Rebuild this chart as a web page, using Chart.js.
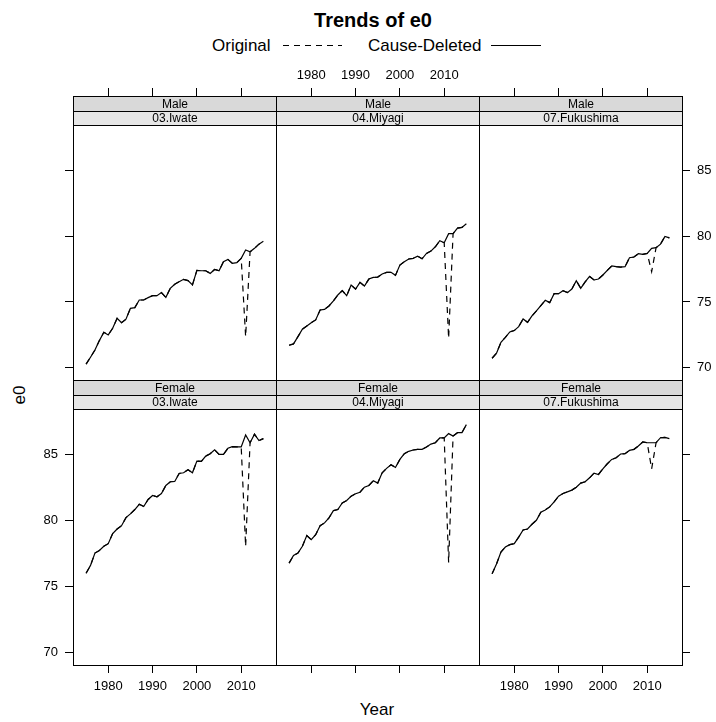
<!DOCTYPE html>
<html>
<head>
<meta charset="utf-8">
<script src="https://cdn.jsdelivr.net/npm/chart.js@4.4.1/dist/chart.umd.min.js"></script>
<style>
  html, body { margin: 0; padding: 0; background: #fff; }
  #wrap { position: relative; width: 716px; height: 722px; overflow: hidden;
          font-family: 'Liberation Sans', Arial, Helvetica, sans-serif; color: #000; }
  #wrap canvas { position: absolute; left: 0; top: 0; }
  .txt { position: absolute; white-space: nowrap; line-height: 1; }
  .mid { transform: translate(-50%, -50%); }
  .key { font-size: 17px; transform: translateY(-50%); }
</style>
</head>
<body>
<div id="wrap">
  <div class="txt mid" style="left:373px;top:20px;font-size:20px;font-weight:bold">Trends of e0</div>
  <div class="txt key" style="left:212px;top:45px">Original</div>
  <svg style="position:absolute;left:0;top:0" width="716" height="60">
    <line x1="283" y1="45.5" x2="342" y2="45.5" stroke="#000" stroke-width="1.2" stroke-dasharray="6 5"/>
    <line x1="491" y1="45.5" x2="541" y2="45.5" stroke="#000" stroke-width="1.2"/>
  </svg>
  <div class="txt key" style="left:368px;top:45px">Cause-Deleted</div>
  <div class="txt mid" style="left:19px;top:395px;font-size:17px;transform:translate(-50%,-50%) rotate(-90deg)">e0</div>
  <div class="txt mid" style="left:377px;top:709px;font-size:17px">Year</div>
</div>
<script>
const FONT = "'Liberation Sans', Arial, Helvetica, sans-serif";

// data
const years = [1975, 1976, 1977, 1978, 1979, 1980, 1981, 1982, 1983, 1984,
  1985, 1986, 1987, 1988, 1989, 1990, 1991, 1992, 1993, 1994,
  1995, 1996, 1997, 1998, 1999, 2000, 2001, 2002, 2003, 2004,
  2005, 2006, 2007, 2008, 2009, 2010, 2011, 2012, 2013, 2014, 2015];
const xTicks = [1980, 1990, 2000, 2010];
const yTicks = [70, 75, 80, 85];

const maleIwate = [70.28, 70.81, 71.36, 72.07, 72.70, 72.50, 73.01, 73.76, 73.43, 73.69,
  74.52, 74.57, 75.15, 75.15, 75.33, 75.48, 75.48, 75.71, 75.35, 76.04,
  76.34, 76.54, 76.72, 76.62, 76.29, 77.40, 77.37, 77.37, 77.17, 77.47,
  77.37, 78.06, 78.23, 77.93, 77.98, 78.31, 78.94, 78.81, 79.07, 79.39, 79.60];
const maleIwateOrig = [70.28, 70.81, 71.36, 72.07, 72.70, 72.50, 73.01, 73.76, 73.43, 73.69,
  74.52, 74.57, 75.15, 75.15, 75.33, 75.48, 75.48, 75.71, 75.35, 76.04,
  76.34, 76.54, 76.72, 76.62, 76.29, 77.40, 77.37, 77.37, 77.17, 77.47,
  77.37, 78.06, 78.23, 77.93, 77.98, 78.31, 72.37, 78.81, 79.07, 79.39, 79.60];

const maleMiyagi = [71.72, 71.82, 72.37, 72.93, 73.18, 73.43, 73.64, 74.39, 74.44, 74.70,
  75.08, 75.53, 75.86, 75.48, 76.29, 75.98, 76.49, 76.21, 76.74, 76.87,
  76.89, 77.12, 77.25, 77.25, 77.02, 77.80, 78.06, 78.26, 78.31, 78.48,
  78.28, 78.69, 78.86, 79.19, 79.65, 79.49, 80.18, 80.18, 80.61, 80.66, 80.93];
const maleMiyagiOrig = [71.72, 71.82, 72.37, 72.93, 73.18, 73.43, 73.64, 74.39, 74.44, 74.70,
  75.08, 75.53, 75.86, 75.48, 76.29, 75.98, 76.49, 76.21, 76.74, 76.87,
  76.89, 77.12, 77.25, 77.25, 77.02, 77.80, 78.06, 78.26, 78.31, 78.48,
  78.28, 78.69, 78.86, 79.19, 79.65, 79.49, 72.25, 80.18, 80.61, 80.66, 80.93];

const maleFukushima = [70.73, 71.11, 71.94, 72.32, 72.73, 72.83, 73.13, 73.71, 73.46, 73.94,
  74.32, 74.72, 75.13, 74.95, 75.63, 75.63, 75.86, 75.71, 75.98, 76.62,
  76.04, 76.52, 76.94, 76.67, 76.74, 77.05, 77.40, 77.73, 77.68, 77.65,
  77.68, 78.36, 78.41, 78.66, 78.61, 78.69, 79.07, 79.12, 79.39, 79.97, 79.87];
const maleFukushimaOrig = [70.73, 71.11, 71.94, 72.32, 72.73, 72.83, 73.13, 73.71, 73.46, 73.94,
  74.32, 74.72, 75.13, 74.95, 75.63, 75.63, 75.86, 75.71, 75.98, 76.62,
  76.04, 76.52, 76.94, 76.67, 76.74, 77.05, 77.40, 77.73, 77.68, 77.65,
  77.68, 78.36, 78.41, 78.66, 78.61, 78.69, 77.30, 79.12, 79.39, 79.97, 79.87];

const femaleIwate = [76.02, 76.61, 77.54, 77.74, 78.05, 78.25, 79.01, 79.36, 79.61, 80.22,
  80.50, 80.83, 81.23, 81.06, 81.59, 81.89, 81.79, 82.04, 82.65, 82.93,
  82.95, 83.56, 83.61, 83.84, 83.61, 84.49, 84.47, 84.87, 85.05, 85.35,
  85.00, 85.00, 85.46, 85.58, 85.56, 85.56, 86.47, 85.88, 86.52, 86.04, 86.19];
const femaleIwateOrig = [76.02, 76.61, 77.54, 77.74, 78.05, 78.25, 79.01, 79.36, 79.61, 80.22,
  80.50, 80.83, 81.23, 81.06, 81.59, 81.89, 81.79, 82.04, 82.65, 82.93,
  82.95, 83.56, 83.61, 83.84, 83.61, 84.49, 84.47, 84.87, 85.05, 85.35,
  85.00, 85.00, 85.46, 85.58, 85.56, 85.56, 78.05, 85.88, 86.52, 86.04, 86.19];

const femaleMiyagi = [76.78, 77.36, 77.54, 78.05, 78.86, 78.55, 78.93, 79.61, 79.82, 80.20,
  80.75, 80.83, 81.33, 81.51, 81.84, 82.02, 82.14, 82.52, 82.65, 83.00,
  82.83, 83.61, 83.94, 84.22, 84.01, 84.62, 85.05, 85.23, 85.33, 85.38,
  85.38, 85.56, 85.78, 85.88, 86.24, 86.24, 86.57, 86.39, 86.64, 86.64, 87.25];
const femaleMiyagiOrig = [76.78, 77.36, 77.54, 78.05, 78.86, 78.55, 78.93, 79.61, 79.82, 80.20,
  80.75, 80.83, 81.33, 81.51, 81.84, 82.02, 82.14, 82.52, 82.65, 83.00,
  82.83, 83.61, 83.94, 84.22, 84.01, 84.62, 85.05, 85.23, 85.33, 85.38,
  85.38, 85.56, 85.78, 85.88, 86.24, 86.24, 76.83, 86.39, 86.64, 86.64, 87.25];

const femaleFukushima = [75.97, 76.71, 77.62, 78.00, 78.18, 78.25, 78.75, 79.29, 79.36, 79.72,
  80.02, 80.63, 80.80, 81.03, 81.41, 81.84, 82.04, 82.17, 82.30, 82.52,
  82.83, 82.93, 83.23, 83.58, 83.48, 83.91, 84.29, 84.62, 84.75, 85.03,
  85.05, 85.30, 85.38, 85.63, 85.94, 85.88, 85.88, 85.88, 86.26, 86.29, 86.19];
const femaleFukushimaOrig = [75.97, 76.71, 77.62, 78.00, 78.18, 78.25, 78.75, 79.29, 79.36, 79.72,
  80.02, 80.63, 80.80, 81.03, 81.41, 81.84, 82.04, 82.17, 82.30, 82.52,
  82.83, 82.93, 83.23, 83.58, 83.48, 83.91, 84.29, 84.62, 84.75, 85.03,
  85.05, 85.30, 85.38, 85.63, 85.94, 85.88, 83.91, 85.88, 86.26, 86.29, 86.19];

const panels = [
  { sex: 'Male', region: '03.Iwate', deleted: maleIwate, original: maleIwateOrig },
  { sex: 'Male', region: '04.Miyagi', deleted: maleMiyagi, original: maleMiyagiOrig },
  { sex: 'Male', region: '07.Fukushima', deleted: maleFukushima, original: maleFukushimaOrig },
  { sex: 'Female', region: '03.Iwate', deleted: femaleIwate, original: femaleIwateOrig },
  { sex: 'Female', region: '04.Miyagi', deleted: femaleMiyagi, original: femaleMiyagiOrig },
  { sex: 'Female', region: '07.Fukushima', deleted: femaleFukushima, original: femaleFukushimaOrig },
];

// page layout (pixels)
const W = 716, H = 722;
const colLeft = [73, 276, 479], colRight = [276, 479, 682];
const rowTop = [96, 380], rowBottom = [380, 665];
const STRIP1 = 15, STRIP2 = 14;
const AX = 40, AY = 30;
const xMin = 1972.05, xMax = 2017.85;
const yMin = 69.08, yMax = 88.43;

const stripPlugin = {
  id: 'strips',
  afterDraw(chart, args, opts) {
    const { ctx, chartArea: a } = chart;
    const L = Math.round(a.left) + 0.5, R = Math.round(a.right) + 0.5;
    const T = Math.round(a.top) + 0.5, B = Math.round(a.bottom) + 0.5;
    ctx.save();
    ctx.fillStyle = '#d9d9d9';
    ctx.fillRect(L, T, R - L, STRIP1);
    ctx.fillStyle = '#e6e6e6';
    ctx.fillRect(L, T + STRIP1, R - L, STRIP2);
    ctx.strokeStyle = '#000';
    ctx.lineWidth = 1;
    ctx.strokeRect(L, T, R - L, B - T);
    ctx.beginPath();
    ctx.moveTo(L, T + STRIP1); ctx.lineTo(R, T + STRIP1);
    ctx.moveTo(L, T + STRIP1 + STRIP2); ctx.lineTo(R, T + STRIP1 + STRIP2);
    ctx.stroke();
    ctx.fillStyle = '#000';
    ctx.font = '12px ' + FONT;
    ctx.textAlign = 'center';
    ctx.textBaseline = 'middle';
    ctx.fillText(opts.sex, (L + R) / 2, T + STRIP1 / 2 + 0.5);
    ctx.fillText(opts.region, (L + R) / 2, T + STRIP1 + STRIP2 / 2 + 0.5);
    ctx.restore();
  },
};

function axis(showLabels, pad, list) {
  return {
    grid: { drawOnChartArea: false, drawTicks: true, tickLength: 8, color: '#000', lineWidth: 1 },
    border: { display: false },
    afterBuildTicks: s => { s.ticks = list.map(v => ({ value: v })); },
    ticks: {
      display: showLabels, color: '#000', padding: pad, autoSkip: false, maxRotation: 0,
      font: { family: FONT, size: 13 },
      callback: v => String(v),
    },
  };
}

function toPoints(values) {
  return years.map((yr, i) => ({ x: yr, y: values[i] }));
}

panels.forEach((p, idx) => {
  const row = Math.floor(idx / 3), col = idx % 3;
  const canvas = document.createElement('canvas');
  canvas.width = W;
  canvas.height = H;
  document.getElementById('wrap').appendChild(canvas);

  // y range stretched upward so the strips sit inside the chart area
  const plotH = rowBottom[row] - rowTop[row] - STRIP1 - STRIP2;
  const yTop = yMax + (STRIP1 + STRIP2) * (yMax - yMin) / plotH;
  const hasY = col !== 1;

  const xAxis = axis(row === 0 ? col === 1 : col !== 1, row === 0 ? 5 : 6, xTicks);
  Object.assign(xAxis, {
    type: 'linear', position: row === 0 ? 'top' : 'bottom', min: xMin, max: xMax,
    afterFit: s => { s.height = AX; },
  });
  const yAxis = axis((row === 0 && col === 2) || (row === 1 && col === 0), 7, yTicks);
  Object.assign(yAxis, {
    type: 'linear', display: hasY, position: col === 2 ? 'right' : 'left', min: yMin, max: yTop,
    afterFit: s => { s.width = hasY ? AY : 0; },
  });

  new Chart(canvas, {
    type: 'line',
    data: {
      datasets: [
        { label: 'Original', data: toPoints(p.original), borderColor: '#000', borderWidth: 1.2,
          borderDash: [6, 5], pointRadius: 0, tension: 0, fill: false },
        { label: 'Cause-Deleted', data: toPoints(p.deleted), borderColor: '#000', borderWidth: 1.2,
          pointRadius: 0, tension: 0, fill: false },
      ],
    },
    options: {
      responsive: false,
      animation: false,
      events: [],
      layout: {
        autoPadding: false,
        padding: {
          left: col === 0 ? colLeft[0] - AY : colLeft[col],
          right: col === 2 ? W - colRight[2] - AY : W - colRight[col],
          top: row === 0 ? rowTop[0] - AX : rowTop[1],
          bottom: row === 0 ? H - rowBottom[0] : H - rowBottom[1] - AX,
        },
      },
      plugins: {
        legend: { display: false },
        tooltip: { enabled: false },
        strips: { sex: p.sex, region: p.region },
      },
      scales: { x: xAxis, y: yAxis },
    },
    plugins: [stripPlugin],
  });
});
</script>
</body>
</html>
